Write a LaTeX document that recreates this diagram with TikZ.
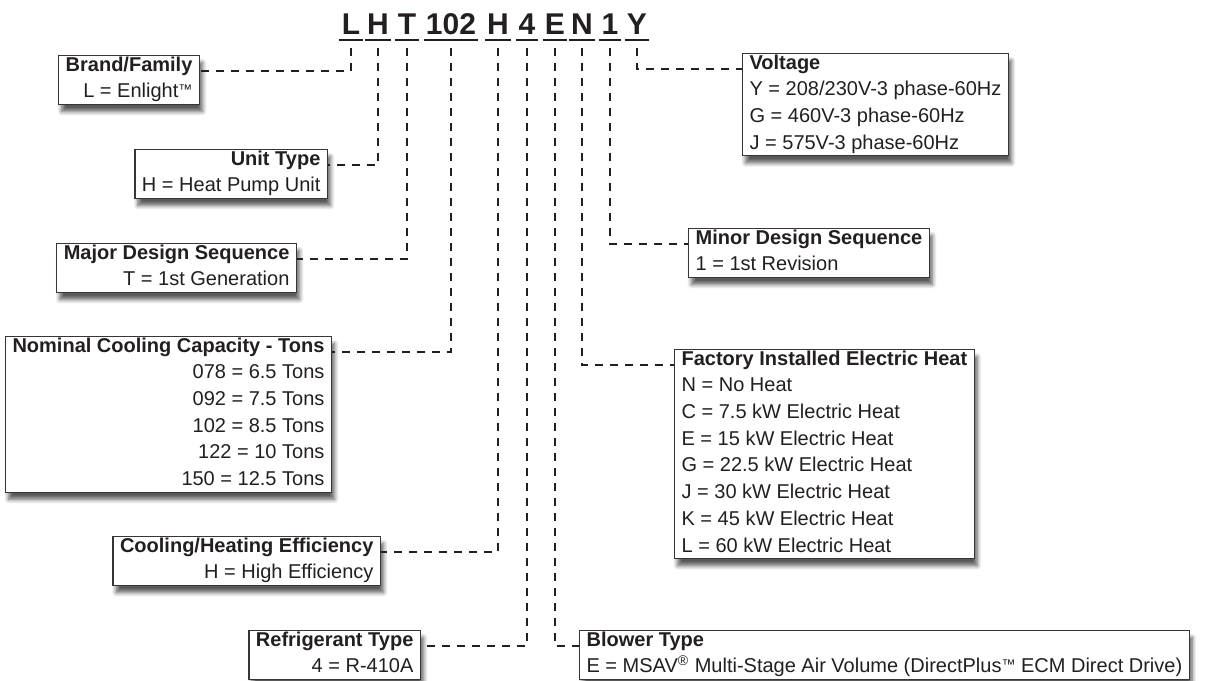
\documentclass[tikz,border=0pt]{standalone}
\usepackage{fontspec}
\setmainfont{Liberation Sans}
\usetikzlibrary{positioning,shadows.blur}
\definecolor{ink}{RGB}{35,31,32}
\newcommand{\bstrut}{\rule[-2.85pt]{0pt}{13.35pt}}
\newcommand{\tmark}{\raisebox{1.6pt}{\scriptsize ™}}

\tikzset{
  codebox/.style={font=\bfseries\fontsize{15}{16}\selectfont,text=ink,
                  inner xsep=1pt,inner ysep=0pt,anchor=base},
  infobox/.style={draw=ink!90,line width=0.6pt,fill=white,text=ink,
                  font=\fontsize{10}{13.35}\selectfont,inner xsep=3.5pt,inner ysep=0.5pt,
                  blur shadow={shadow xshift=1.5pt,shadow yshift=-3.5pt,
                               shadow blur steps=6,shadow opacity=65},
                  execute at begin node=\bstrut,execute at end node=\bstrut},
  leftbox/.style={infobox,align=right,anchor=north east},
  rightbox/.style={infobox,align=left,anchor=north west},
  codeline/.style={draw=ink,line width=1pt,dash pattern=on 4pt off 3.5pt},
  uline/.style={draw=ink,line width=1.3pt}
}

\begin{document}
\begin{tikzpicture}[x=0.5pt,y=-0.5pt]
        \useasboundingbox (0,0) rectangle (1223,681);
        \foreach \n/\t/\x in {cL/L/351,cH/H/378,cT/T/407,c102/102/451,cHb/H/498,
                              c4/4/527,cE/E/555,cN/N/582,cOne/1/610,cY/Y/637}{
          \node[codebox] (\n) at (\x,34) {\t};
          \draw[uline] ([yshift=-3pt]\n.base west) -- ([yshift=-3pt]\n.base east);
        }

        \node[leftbox] (brand) at (200,55) {\textbf{Brand/Family}\\L = Enlight\tmark};
        \node[leftbox] (unit) at (328,149) {\textbf{Unit Type}\\H = Heat Pump Unit};
        \node[leftbox] (major) at (297,243) {\textbf{Major Design Sequence}\\T = 1st Generation};
        \node[leftbox] (cap) at (332,336) {\textbf{Nominal Cooling Capacity - Tons}\\
              078 = 6.5 Tons\\092 = 7.5 Tons\\102 = 8.5 Tons\\122 = 10 Tons\\150 = 12.5 Tons};
        \node[leftbox] (eff) at (381,536) {\textbf{Cooling/Heating Efficiency}\\H = High Efficiency};
        \node[leftbox] (refr) at (421,630) {\textbf{Refrigerant Type}\\4 = R-410A};

        \node[rightbox] (volt) at (742,53) {\textbf{Voltage}\\Y = 208/230V-3 phase-60Hz\\
              G = 460V-3 phase-60Hz\\J = 575V-3 phase-60Hz};
        \node[rightbox] (minor) at (688,228) {\textbf{Minor Design Sequence}\\1 = 1st Revision};
        \node[rightbox] (heat) at (674,349) {\textbf{Factory Installed Electric Heat}\\
              N = No Heat\\C = 7.5 kW Electric Heat\\E = 15 kW Electric Heat\\
              G = 22.5 kW Electric Heat\\J = 30 kW Electric Heat\\
              K = 45 kW Electric Heat\\L = 60 kW Electric Heat};
        \node[rightbox] (blower) at (579,630) {\textbf{Blower Type}\\
              E = MSAV\textsuperscript{®} Multi-Stage Air Volume (DirectPlus\tmark{} ECM Direct Drive)};

        \foreach \c/\b/\a in {cL/brand/north east,cH/unit/north east,cT/major/north east,
                              c102/cap/north east,cHb/eff/north east,c4/refr/north east,
                              cE/blower/north west,cN/heat/north west,cOne/minor/north west,
                              cY/volt/north west}
          \draw[codeline] ([yshift=-7pt]\c.base) |- ([yshift=-8pt]\b.\a);
\end{tikzpicture}
\end{document}
